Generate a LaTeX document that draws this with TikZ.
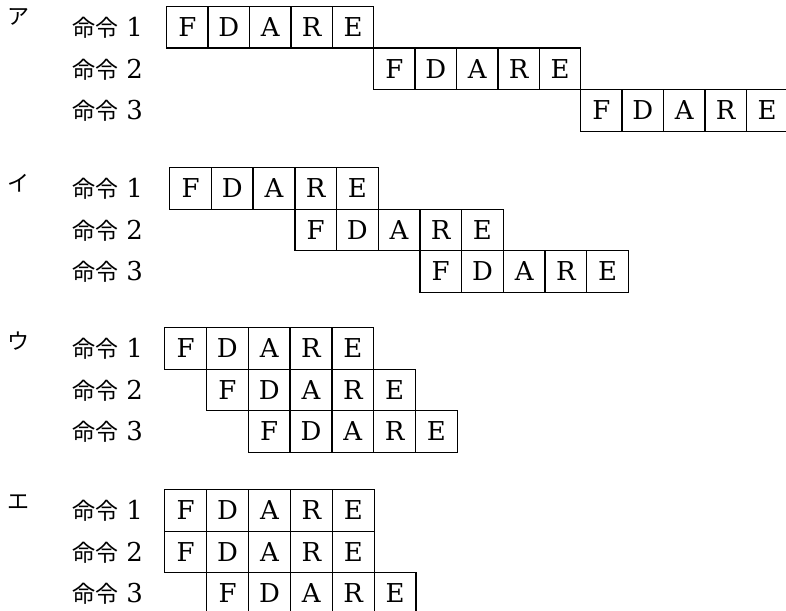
\documentclass[tikz,border=0pt]{standalone}
\usepackage{fontspec}
\newfontfamily\cjk{Noto Sans CJK JP}
\newfontfamily\lat{DejaVu Serif}
\begin{document}
\begin{tikzpicture}[x=1pt,y=-1pt,
  cell/.style={draw, line width=1.4pt, inner sep=0pt, anchor=north west, minimum height=41.5pt, font=\lat\fontsize{26}{26}\selectfont},
  rowlabel/.style={anchor=east, font=\lat\fontsize{26}{26}\selectfont, inner sep=0pt},
  choice/.style={font=\cjk\fontsize{22}{22}\selectfont, inner sep=0pt}]
\useasboundingbox (0,0) rectangle (786,610);
\foreach \g/\kana/\ky/\xo/\yo/\w/\oa/\ob/\oc in {a/ア/17/166/6/41.4/0/5/10, i/イ/183/169/167/41.7/0/3/6, u/ウ/341/164/327/41.8/0/1/2, e/エ/502/164/489/41.9/0/0/1}{
  \node[choice] (\g-k) at (19,\ky) {\kana};
  \foreach \r/\off in {1/\oa,2/\ob,3/\oc}{
    \pgfmathsetmacro\ty{\yo+(\r-1)*41.5}
    \node[rowlabel] (\g-l\r) at (143,\ty+22) {{\cjk\fontsize{23}{23}\selectfont 命令}\hspace{8pt}\r};
    \foreach \L [count=\c from 0] in {F,D,A,R,E}{
      \pgfmathsetmacro\tx{\xo+(\off+\c)*\w}
      \node[cell, minimum width=\w pt] (\g-\r-\L) at (\tx,\ty) {\L};
    }
  }
}
\end{tikzpicture}
\end{document}
